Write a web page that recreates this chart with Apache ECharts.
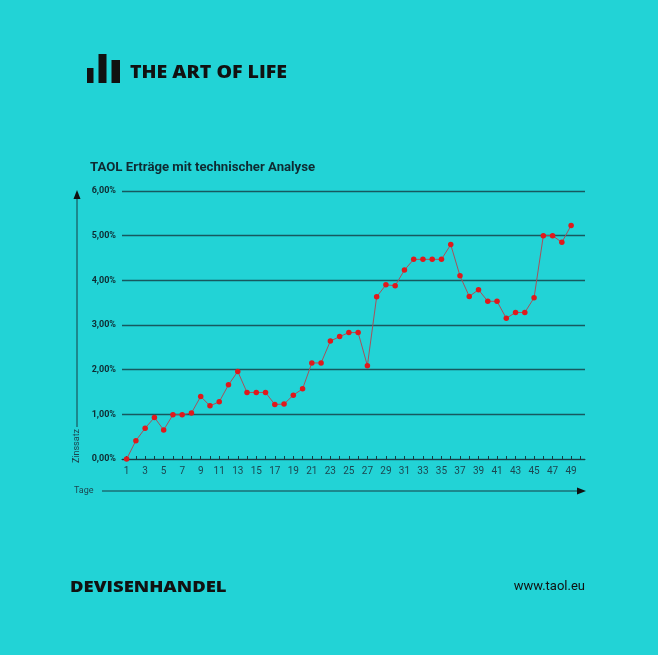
<!DOCTYPE html>
<html>
<head>
<meta charset="utf-8">
<script src="https://cdn.jsdelivr.net/npm/echarts@6/dist/echarts.min.js"></script>
<style>
html,body{margin:0;padding:0;background:#22d3d6;}
#c{width:658px;height:655px;}
</style>
</head>
<body>
<div id="c"></div>
<script>
const categories = ['1','2','3','4','5','6','7','8','9','10','11','12','13','14','15','16','17','18','19','20','21','22','23','24','25','26','27','28','29','30','31','32','33','34','35','36','37','38','39','40','41','42','43','44','45','46','47','48','49','50'];
const returns = [0.00,0.41,0.69,0.93,0.65,0.99,0.99,1.03,1.40,1.19,1.28,1.66,1.96,1.49,1.49,1.49,1.22,1.23,1.43,1.57,2.15,2.15,2.64,2.74,2.83,2.83,2.09,3.63,3.90,3.88,4.23,4.47,4.47,4.47,4.47,4.80,4.10,3.64,3.79,3.53,3.53,3.15,3.28,3.28,3.61,5.00,5.00,4.85,5.23];
const yTicks = [0,1,2,3,4,5,6];
const titleText = 'TAOL Erträge mit technischer Analyse';
const yName = 'Zinssatz';
const xName = 'Tage';

const dark = '#0f2a31';
const chart = echarts.init(document.getElementById('c'));
chart.setOption({
  backgroundColor: '#22d3d6',
  animation: false,
  textStyle: {fontFamily: 'Roboto'},
  title: {
    text: titleText, left: 90, top: 161, padding: 0,
    textStyle: {fontFamily: 'Roboto', fontSize: 13.2, fontWeight: 'bold', color: dark}
  },
  grid: {left: 122, right: 73, top: 191, bottom: 196, containLabel: false},
  xAxis: {
    type: 'category', data: categories, boundaryGap: true,
    axisLine: {lineStyle: {color: '#163c44', width: 1}},
    axisTick: {show: true, interval: 0, alignWithLabel: true, inside: true, length: 3, lineStyle: {color: '#163c44'}},
    axisLabel: {interval: 1, color: '#1c4650', fontSize: 10, margin: 7, fontFamily: 'Roboto'}
  },
  yAxis: {
    type: 'value', min: yTicks[0], max: yTicks[yTicks.length-1], interval: 1,
    axisLine: {show: false}, axisTick: {show: false},
    axisLabel: {color: dark, fontSize: 9, fontWeight: 'bold', margin: 6, fontFamily: 'Roboto',
      formatter: v => v.toFixed(2).replace('.', ',') + '%'},
    splitLine: {lineStyle: {color: '#17585f', width: 1.3}}
  },
  series: [{
    type: 'line', data: returns, symbol: 'circle', symbolSize: 5.5,
    lineStyle: {color: '#a8505a', width: 1},
    itemStyle: {color: '#e0191c'}
  }],
  graphic: [
    {type: 'rect', shape: {x: 87, y: 68, width: 6.5, height: 15}, style: {fill: '#111'}},
    {type: 'rect', shape: {x: 98.5, y: 54, width: 8, height: 29}, style: {fill: '#111'}},
    {type: 'rect', shape: {x: 111.5, y: 60, width: 8.5, height: 23}, style: {fill: '#111'}},
    {type: 'text', x: 130, y: 73, scaleX: 1.15, style: {text: 'THE ART OF LIFE', fill: '#111', font: '800 17px "Open Sans"', verticalAlign: 'middle'}},
    {type: 'line', shape: {x1: 77, y1: 197, x2: 77, y2: 427}, style: {stroke: '#163c44', lineWidth: 1}},
    {type: 'polygon', shape: {points: [[77, 190], [73.5, 199], [80.5, 199]]}, style: {fill: '#111'}},
    {type: 'text', x: 77, y: 446, rotation: Math.PI/2, style: {text: yName, fill: '#1c4650', font: '9px Roboto', align: 'center', verticalAlign: 'middle'}},
    {type: 'text', x: 74, y: 491, style: {text: xName, fill: '#1c4650', font: '9px Roboto', align: 'left', verticalAlign: 'middle'}},
    {type: 'line', shape: {x1: 102, y1: 491, x2: 579, y2: 491}, style: {stroke: '#163c44', lineWidth: 1}},
    {type: 'polygon', shape: {points: [[586, 491], [577, 487.5], [577, 494.5]]}, style: {fill: '#111'}},
    {type: 'text', x: 70, y: 587, scaleX: 1.12, style: {text: 'DEVISENHANDEL', fill: '#111', font: '800 16.5px "Open Sans"', verticalAlign: 'middle'}},
    {type: 'text', x: 585, y: 587, style: {text: 'www.taol.eu', fill: '#111', font: '13px Roboto', align: 'right', verticalAlign: 'middle'}}
  ]
});
</script>
</body>
</html>
